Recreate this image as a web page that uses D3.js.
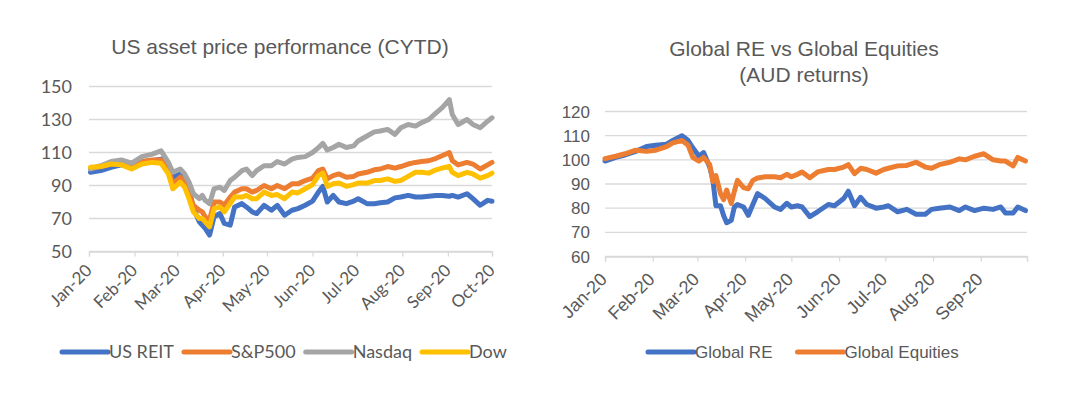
<!DOCTYPE html>
<html>
<head>
<meta charset="utf-8">
<script src="https://cdn.jsdelivr.net/npm/d3@7"></script>
<style>
  html, body { margin: 0; padding: 0; background: #ffffff; }
  svg { display: block; }
</style>
</head>
<body>
<svg id="chart" width="1089" height="398"></svg>
<script>
// ---------------- DATA ----------------
const leftTitle = "US asset price performance (CYTD)";
const rightTitleLines = ["Global RE vs Global Equities", "(AUD returns)"];

const leftDates = ["2020-01-02","2020-01-09","2020-01-16","2020-01-23","2020-01-30","2020-02-06","2020-02-13","2020-02-19","2020-02-24","2020-02-27",
  "2020-03-03","2020-03-06","2020-03-09","2020-03-12","2020-03-16","2020-03-18","2020-03-20","2020-03-23","2020-03-26","2020-03-30",
  "2020-04-02","2020-04-06","2020-04-09","2020-04-14","2020-04-17","2020-04-21","2020-04-24","2020-04-29","2020-05-04","2020-05-08",
  "2020-05-13","2020-05-18","2020-05-22","2020-05-27","2020-06-01","2020-06-05","2020-06-08","2020-06-11","2020-06-15","2020-06-19",
  "2020-06-24","2020-06-29","2020-07-02","2020-07-08","2020-07-13","2020-07-17","2020-07-22","2020-07-27","2020-07-31","2020-08-05",
  "2020-08-10","2020-08-14","2020-08-19","2020-08-24","2020-08-28","2020-09-02","2020-09-04","2020-09-08","2020-09-14","2020-09-18",
  "2020-09-23","2020-09-28","2020-10-01"];

const usReit = [98,99,101,102.5,103,104,105,106,101.5,95,
  97,96,88,76,68,66,64,60,71,73,
  67,66,77,79,77,74,73,78,75,78,
  72,75,76,78,80.5,86,89.5,80,84,80,
  79,80.5,82,79,79,79.5,80,82.5,83,84,
  83,83,83.5,84,84,83.5,84,83,85,82,
  78,81,80.5];

const sp500 = [100.5,101.5,103,103.5,102,104.5,105.5,105.5,100,91,
  95,92,85,78,75,74,71,69,80,80,
  78,83,86,88,88,86,87,90,88,90,
  88,91,91,93,94.5,99,100,94,96,97,
  95,95.5,97,98,99.5,100,101.5,100.5,101.5,103,
  104,104.5,105,106.5,108,110,105,102.5,104,103,
  100,102.5,104];

const nasdaq = [100,102,104.5,105.5,103.5,107.5,109,111,104,98,
  100,97,92,85,82,84,81,79,88,89,
  87,93,95,99,100,96,99,102,102,104.5,
  103,106,107,107.5,110,113,115.5,111.5,113,115,
  113,114,117,120,122.5,123,124,121,125,127,
  126,128,130,134,137,142,133,127,130,127,
  125,129,131];

const dow = [101,101.5,103,102.5,100,103,104,103.5,97,88,
  92,89,82,74,70,70,68,65,76,77,
  74,79,83,83,84,82,82,86,84,84.5,
  82,86,85.5,88,90.5,96,97.5,89.5,91,91.5,
  89.5,90.5,91.5,91.5,93,93,94,92.5,93,95.5,
  98,98,97.5,99.5,100.5,101.5,98,96,98,97,
  94.5,96,97.5];

const leftSeriesNames = ["US REIT", "S&P500", "Nasdaq", "Dow"];
const leftYTicks = [50, 70, 90, 110, 130, 150];
const leftXTicks = ["2020-01-01","2020-02-01","2020-03-01","2020-04-01","2020-05-01","2020-06-01","2020-07-01","2020-08-01","2020-09-01","2020-10-01"];
const leftXLabels = ["Jan-20","Feb-20","Mar-20","Apr-20","May-20","Jun-20","Jul-20","Aug-20","Sep-20","Oct-20"];

const rightDates = ["2020-01-01","2020-01-08","2020-01-14","2020-01-21","2020-01-28","2020-02-03","2020-02-10","2020-02-14","2020-02-20","2020-02-24",
  "2020-02-27","2020-03-02","2020-03-05","2020-03-09","2020-03-11","2020-03-13","2020-03-16","2020-03-18","2020-03-20","2020-03-23",
  "2020-03-25","2020-03-27","2020-03-31","2020-04-03","2020-04-06","2020-04-09","2020-04-14","2020-04-20","2020-04-24","2020-04-28",
  "2020-05-01","2020-05-05","2020-05-08","2020-05-13","2020-05-18","2020-05-25","2020-05-29","2020-06-04","2020-06-07","2020-06-11",
  "2020-06-15","2020-06-19","2020-06-25","2020-06-30","2020-07-03","2020-07-09","2020-07-15","2020-07-21","2020-07-27","2020-07-31",
  "2020-08-05","2020-08-12","2020-08-18","2020-08-22","2020-08-28","2020-09-03","2020-09-09","2020-09-14","2020-09-17","2020-09-22",
  "2020-09-25","2020-09-30"];

const globalRE = [99.5,101,102,103.5,105.5,106,106.5,108,110,108,
  105,101.5,103,97,92,81,81,77,74,75,
  80.5,81.5,80.5,77,81.5,86,84,80.5,79.5,82,
  80.5,81,80.5,76.5,78.5,81.5,81,84,87,81,
  84.5,81.5,80,80.5,81,78.5,79.5,77.5,77.5,79.5,
  80,80.5,79,80.5,79,80,79.5,80.5,78,78,
  80.5,79];

const globalEq = [100.5,101.5,102.5,104,103.5,104,105.5,107,108,106,
  101,99.5,101,98,91,93.5,86,83.5,87.5,82,
  87,91.5,88.5,88,91.5,92.5,93,93,92.6,94,
  93,94,95,92.6,95,96,96,97,98,94.3,
  96.5,96,94.5,96,96.5,97.5,97.7,99,97,96.5,
  98,99,100.4,100,101.5,102.5,100,99.5,99.5,97.5,
  101,99.5];

const rightSeriesNames = ["Global RE", "Global Equities"];
const rightYTicks = [60, 70, 80, 90, 100, 110, 120];
const rightXTicks = leftXTicks;
const rightXLabels = ["Jan-20","Feb-20","Mar-20","Apr-20","May-20","Jun-20","Jul-20","Aug-20","Sep-20"];

// ---------------- STYLE ----------------
const BLUE = "#4472C4", ORANGE = "#ED7D31", GRAY = "#A5A5A5", YELLOW = "#FFC000";
const TEXT = "#595959", GRID = "#d9d9d9";
const LEFT_FONT = "Lato, 'Open Sans', sans-serif";
const RIGHT_FONT = "'Liberation Sans', Arial, sans-serif";

const parse = d3.timeParse("%Y-%m-%d");
const svg = d3.select("#chart");

function drawChart(cfg) {
  const g = svg.append("g");
  const x = d3.scaleTime().domain([parse("2020-01-01"), parse("2020-10-01")]).range(cfg.xRange);
  const y = d3.scaleLinear().domain(cfg.yDomain).range(cfg.yRange);

  // gridlines
  g.selectAll("line.grid").data(cfg.yTicks).join("line")
    .attr("x1", cfg.xRange[0]).attr("x2", cfg.xRange[1])
    .attr("y1", d => y(d)).attr("y2", d => y(d))
    .attr("stroke", GRID).attr("stroke-width", 1.3);

  // x axis via d3.axisBottom
  const tickDates = cfg.xTicks.map(parse);
  const axis = d3.axisBottom(x).tickValues(tickDates).tickSize(5).tickFormat("");
  const ax = g.append("g").attr("transform", `translate(0,${y(cfg.yDomain[0])})`).call(axis);
  ax.select(".domain").attr("stroke", GRID).attr("stroke-width", 1.3);
  ax.selectAll(".tick line").attr("stroke", GRID).attr("stroke-width", 1.3);

  // x labels
  g.selectAll("text.xl").data(cfg.xLabels).join("text")
    .attr("transform", (d, i) => `translate(${x(tickDates[i]) + cfg.xlDx},${y(cfg.yDomain[0]) + cfg.xlDy}) rotate(-45)`)
    .attr("text-anchor", "end")
    .attr("font-family", cfg.font).attr("font-size", cfg.xlSize).attr("fill", TEXT)
    .text(d => d);

  // y labels
  g.selectAll("text.yl").data(cfg.yTicks).join("text")
    .attr("x", cfg.ylX).attr("y", d => y(d)).attr("dy", "0.36em")
    .attr("text-anchor", "end")
    .attr("font-family", cfg.font).attr("font-size", cfg.ylSize).attr("fill", TEXT)
    .text(d => d);

  // series
  const line = d3.line().x(d => x(d.date)).y(d => y(d.value));
  cfg.series.forEach(s => {
    const pts = cfg.dates.map((d, i) => ({ date: parse(d), value: s.values[i] }));
    g.append("path").datum(pts)
      .attr("d", line).attr("fill", "none")
      .attr("stroke", s.color).attr("stroke-width", 5)
      .attr("stroke-linejoin", "round").attr("stroke-linecap", "round");
  });

  // title
  cfg.title.forEach((t, i) => {
    g.append("text").attr("x", cfg.titleX).attr("y", cfg.titleY + i * 26)
      .attr("text-anchor", "middle")
      .attr("font-family", RIGHT_FONT).attr("font-size", 21).attr("fill", TEXT)
      .text(t);
  });

  // legend
  let lx = cfg.legendX;
  cfg.series.forEach(s => {
    g.append("line").attr("x1", lx).attr("x2", lx + 46)
      .attr("y1", cfg.legendY).attr("y2", cfg.legendY)
      .attr("stroke", s.color).attr("stroke-width", 5).attr("stroke-linecap", "round");
    const t = g.append("text").attr("x", lx + 47).attr("y", cfg.legendY).attr("dy", "0.36em")
      .attr("font-family", cfg.font).attr("font-size", cfg.legSize).attr("fill", TEXT)
      .text(s.name);
    lx += 47 + t.node().getComputedTextLength() + cfg.legendGap;
  });
}

drawChart({
  xRange: [89, 492], yDomain: [50, 150], yRange: [251.5, 86.5],
  yTicks: leftYTicks, xTicks: leftXTicks, xLabels: leftXLabels,
  dates: leftDates,
  series: [
    { name: leftSeriesNames[0], values: usReit, color: BLUE },
    { name: leftSeriesNames[1], values: sp500, color: ORANGE },
    { name: leftSeriesNames[2], values: nasdaq, color: GRAY },
    { name: leftSeriesNames[3], values: dow, color: YELLOW }
  ],
  font: LEFT_FONT, xlSize: 17, ylSize: 18, legSize: 18,
  xlDx: 4, xlDy: 20, ylX: 72,
  title: [leftTitle], titleX: 280, titleY: 54,
  legendX: 62, legendY: 352, legendGap: 10
});

drawChart({
  xRange: [605, 1027], yDomain: [60, 120], yRange: [256.5, 111.5],
  yTicks: rightYTicks, xTicks: rightXTicks, xLabels: rightXLabels,
  dates: rightDates,
  series: [
    { name: rightSeriesNames[0], values: globalRE, color: BLUE },
    { name: rightSeriesNames[1], values: globalEq, color: ORANGE }
  ],
  font: RIGHT_FONT, xlSize: 18, ylSize: 17, legSize: 17,
  xlDx: 3, xlDy: 24, ylX: 590,
  title: rightTitleLines, titleX: 804, titleY: 56,
  legendX: 648, legendY: 352, legendGap: 25
});
</script>
</body>
</html>
